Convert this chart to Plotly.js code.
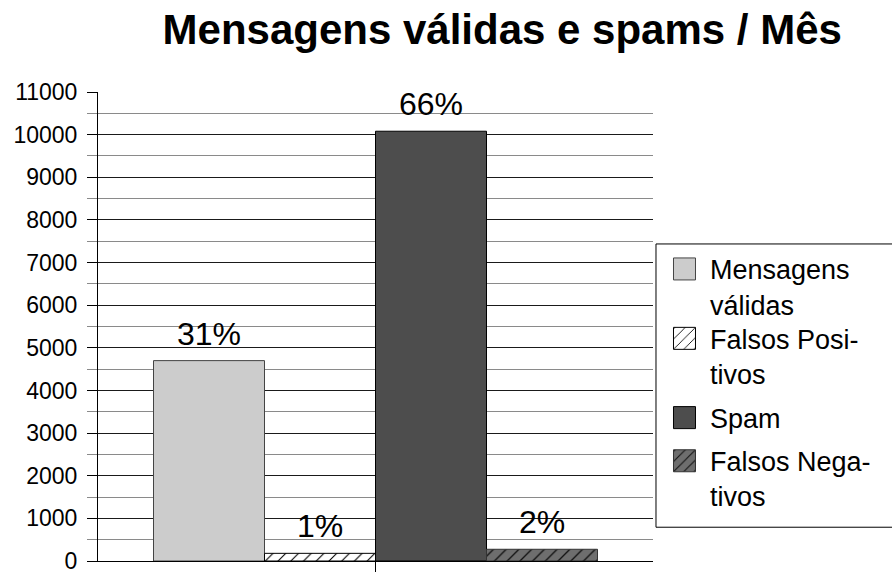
<!DOCTYPE html>
<html>
<head>
<meta charset="utf-8">
<script src="https://cdn.plot.ly/plotly-3.0.1.min.js"></script>
<style>
  html, body { margin: 0; padding: 0; background: #fff; }
  #chart { width: 892px; height: 573px; }
</style>
</head>
<body>
<div id="chart"></div>
<script>
// ---- data ----
var categories = ['Válidas', 'Spam'];
var seriesNames = ['Mensagens<br>válidas', 'Falsos Posi-<br>tivos', 'Spam', 'Falsos Nega-<br>tivos'];
var seriesCategory = ['Válidas', 'Válidas', 'Spam', 'Spam'];
var seriesValues = [4700, 180, 10080, 275];
var percentLabels = ['31%', '1%', '66%', '2%'];

// ---- styles ----
var fills = ['#cccccc', '#ffffff', '#4d4d4d', '#6e6e6e'];
var lines = ['#444444', '#000000', '#000000', '#333333'];
var patterns = [null, {shape: '/', fgcolor: '#000000', bgcolor: '#ffffff', size: 9, solidity: 0.12},
                null, {shape: '/', fgcolor: '#111111', bgcolor: '#6e6e6e', size: 9, solidity: 0.15}];
var offsets = [-0.30, 0.10, -0.50, -0.10];
var barWidth = 0.40;
var FONT = 'Liberation Sans, Arial, sans-serif';

// legend layout (one legend per entry, to space entries like the reference)
var legendIds = ['legend', 'legend2', 'legend3', 'legend4'];
var legendTops = [0.674, 0.526, 0.357, 0.265];   // paper fractions
var legendX = 1.0108;
var legendBox = {x0: 1.0054, x1: 1.6, y0: 0.072, y1: 0.676};

var traces = seriesNames.map(function (name, i) {
  var marker = {color: fills[i], line: {color: lines[i], width: 1}};
  if (patterns[i]) marker.pattern = patterns[i];
  return {
    type: 'bar',
    name: name,
    x: [seriesCategory[i]],
    y: [seriesValues[i]],
    offset: offsets[i],
    width: barWidth,
    marker: marker,
    cliponaxis: false,
    legend: legendIds[i],
    hoverinfo: 'y'
  };
});

// percentage labels above each bar, positioned through the axes
var annotations = seriesNames.map(function (name, i) {
  return {
    xref: 'x', yref: 'y',
    x: categories.indexOf(seriesCategory[i]) + offsets[i] + barWidth / 2,
    y: seriesValues[i],
    text: percentLabels[i],
    showarrow: false,
    xanchor: 'center', yanchor: 'bottom',
    yshift: 7,
    font: {family: FONT, size: 32, color: '#000'}
  };
});

var layout = {
  width: 892, height: 573,
  paper_bgcolor: '#ffffff', plot_bgcolor: '#ffffff',
  margin: {l: 98, r: 239, t: 92, b: 12, pad: 0},
  barmode: 'overlay',
  font: {family: FONT, color: '#000'},
  title: {
    text: 'Mensagens válidas e spams / Mês',
    font: {family: FONT, size: 42, color: '#000', weight: 'bold'},
    xref: 'container', x: 0.563, xanchor: 'center',
    yref: 'container', y: 0.948, yanchor: 'middle'
  },
  xaxis: {
    type: 'category',
    categoryorder: 'array', categoryarray: categories,
    range: [-0.5, 1.5],
    showline: true, linecolor: '#000', linewidth: 1,
    showgrid: false, zeroline: false,
    tickmode: 'array', tickvals: [0.5], ticktext: [''],
    ticks: 'outside', ticklen: 10, tickcolor: '#000',
    showticklabels: false
  },
  yaxis: {
    range: [0, 11000],
    dtick: 1000, tick0: 0, tickformat: 'd',
    showline: true, linecolor: '#000', linewidth: 1,
    showgrid: true, gridcolor: '#1a1a1a', gridwidth: 1,
    zeroline: false,
    ticks: 'outside', ticklen: 10, tickcolor: '#000',
    tickfont: {family: FONT, size: 23, color: '#000'},
    ticklabelstandoff: 5,
    ticklabeloverflow: 'allow',
    minor: {dtick: 500, showgrid: true, gridcolor: '#8a8a8a', ticks: 'outside', ticklen: 10, tickcolor: '#8a8a8a'}
  },
  annotations: annotations,
  shapes: [{
    type: 'rect', xref: 'paper', yref: 'paper',
    x0: legendBox.x0, x1: legendBox.x1, y0: legendBox.y0, y1: legendBox.y1,
    line: {color: '#000', width: 1}, fillcolor: '#ffffff', layer: 'below'
  }],
  showlegend: true
};

legendIds.forEach(function (id, i) {
  layout[id] = {
    x: legendX, xanchor: 'left', y: legendTops[i], yanchor: 'top',
    bgcolor: 'rgba(0,0,0,0)', borderwidth: 0,
    font: {family: FONT, size: 27, color: '#000'},
    valign: 'top',
    itemwidth: 41
  };
});

Plotly.newPlot('chart', traces, layout, {displayModeBar: false, staticPlot: true}).then(function (gd) {
  // larger legend swatches, as in the reference
  var paths = gd.querySelectorAll('.legendpoints path');
  paths.forEach(function (p) { p.setAttribute('d', 'M11,11H-11V-11H11Z'); });
});
</script>
</body>
</html>
